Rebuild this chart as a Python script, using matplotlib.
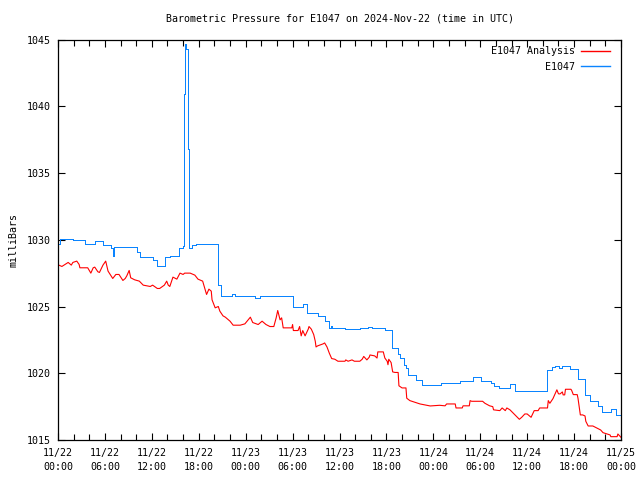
import numpy as np
import matplotlib
matplotlib.use('Agg')
import matplotlib.pyplot as plt
from matplotlib.ticker import MultipleLocator, FuncFormatter

# hours since 2024-11-22 00:00 UTC, pressure in mb
analysis_hours = [0.1, 0.5, 0.9, 1.3, 1.7, 1.9, 2.4, 2.7, 2.8, 3.8, 4.2, 4.5, 4.7, 5.1, 5.3, 5.75, 6.1, 6.4,
                  7.0, 7.4, 7.8, 8.3, 8.6, 8.8, 9.1, 9.3, 9.8, 10.4, 10.9, 11.8, 12.1, 12.7, 13.0, 13.6, 13.9,
                  14.1, 14.3, 14.7, 15.2, 15.6, 16.0, 16.2, 16.9, 17.5, 17.9, 18.5, 19.0, 19.3, 19.6, 19.7,
                  20.1, 20.5, 20.7, 21.1, 21.4, 22.0, 22.4, 23.3, 23.9, 24.6, 24.9, 25.6, 26.1, 26.6, 27.1,
                  27.6, 27.9, 28.1, 28.4, 28.6, 28.8, 29.9, 30.0, 30.1, 30.7, 30.9, 31.1, 31.3, 31.6, 32.0,
                  32.1, 32.4, 32.7, 32.9, 33.0, 33.2, 33.9, 34.1, 34.4, 34.7, 35.0, 35.4, 35.8, 36.7, 36.8,
                  37.1, 37.6, 37.9, 38.6, 38.9, 39.1, 39.5, 39.8, 39.9, 40.5, 40.8, 40.9, 41.6, 41.8, 42.1,
                  42.2, 42.3, 42.6, 42.8, 43.1, 43.5, 43.6, 44.0, 44.5, 44.6, 45.0, 46.3, 47.6, 48.8, 49.5,
                  49.7, 50.8, 50.9, 51.7, 51.8, 52.6, 52.7, 52.9, 54.3, 54.6, 55.2, 55.6, 55.7, 56.5, 56.8,
                  57.2, 57.4, 57.8, 58.4, 59.0, 59.3, 59.7, 60.0, 60.5, 60.9, 61.4, 61.6, 62.6, 62.7, 62.9,
                  63.3, 63.8, 64.0, 64.2, 64.5, 64.6, 64.8, 64.9, 65.6, 65.7, 65.9, 66.4, 66.5, 66.8, 67.1,
                  67.4, 67.5, 67.8, 68.4, 68.9, 69.4, 69.7, 70.6, 70.7, 71.5, 71.6, 72.0]
analysis_mb = [1028.1, 1028.0, 1028.15, 1028.3, 1028.1, 1028.3, 1028.4, 1028.15, 1027.9, 1027.9, 1027.5,
               1027.9, 1027.95, 1027.6, 1027.55, 1028.1, 1028.4, 1027.65, 1027.1, 1027.4, 1027.4, 1026.95,
               1027.1, 1027.3, 1027.7, 1027.15, 1027.0, 1026.9, 1026.6, 1026.5, 1026.6, 1026.35, 1026.35,
               1026.6, 1026.9, 1026.6, 1026.5, 1027.2, 1027.05, 1027.5, 1027.4, 1027.5, 1027.5, 1027.35,
               1027.05, 1026.9, 1025.9, 1026.3, 1026.15, 1025.5, 1024.9, 1025.0, 1024.65, 1024.3, 1024.2,
               1023.9, 1023.6, 1023.6, 1023.7, 1024.2, 1023.8, 1023.65, 1023.9, 1023.65, 1023.5, 1023.5,
               1024.15, 1024.7, 1024.0, 1024.15, 1023.4, 1023.4, 1023.65, 1023.2, 1023.2, 1023.5, 1022.8,
               1023.2, 1022.8, 1023.3, 1023.5, 1023.3, 1022.9, 1022.4, 1021.97, 1022.05, 1022.2, 1022.27,
               1021.97, 1021.5, 1021.1, 1021.05, 1020.9, 1020.9, 1021.0, 1020.9, 1021.0, 1020.9, 1020.9,
               1021.05, 1021.26, 1021.0, 1021.2, 1021.37, 1021.3, 1021.14, 1021.6, 1021.6, 1021.14, 1020.9,
               1020.64, 1021.05, 1020.8, 1020.1, 1020.06, 1020.06, 1019.06, 1018.9, 1018.9, 1018.13,
               1017.95, 1017.7, 1017.55, 1017.6, 1017.56, 1017.7, 1017.7, 1017.4, 1017.4, 1017.56, 1017.56,
               1017.95, 1017.9, 1017.9, 1017.75, 1017.56, 1017.5, 1017.26, 1017.2, 1017.4, 1017.2, 1017.4,
               1017.26, 1016.9, 1016.55, 1016.7, 1016.95, 1016.95, 1016.7, 1017.2, 1017.2, 1017.4, 1017.4,
               1017.95, 1017.75, 1018.1, 1018.76, 1018.46, 1018.45, 1018.6, 1018.38, 1018.38, 1018.8,
               1018.8, 1018.7, 1018.4, 1018.4, 1018.13, 1016.88, 1016.88, 1016.8, 1016.4, 1016.05, 1016.05,
               1015.9, 1015.75, 1015.55, 1015.38, 1015.25, 1015.25, 1015.45, 1015.2]

# observed station pressure, step changes (hour the level starts, value)
obs_hours = [0.13, 0.3, 1.9, 3.45, 4.7, 5.8, 6.8, 7.0, 7.2, 10.1, 10.5, 12.1, 12.6, 13.7, 14.3, 15.5, 16.0,
             16.1, 16.15, 16.2, 16.4, 16.6, 16.75, 17.2, 17.6, 20.4, 20.9, 22.3, 22.6, 25.2, 25.8, 30.1,
             31.3, 31.9, 33.2, 34.1, 34.6, 34.9, 35.1, 36.7, 38.6, 39.6, 40.2, 41.8, 42.7, 43.5, 43.7, 44.2,
             44.5, 44.8, 45.8, 46.6, 49.0, 51.4, 53.1, 54.1, 55.4, 55.8, 56.4, 57.8, 58.4, 62.5, 63.2, 63.6,
             64.1, 64.4, 65.5, 66.5, 67.4, 68.0, 69.1, 69.6, 70.7, 71.3, 72.0]
obs_mb = [1029.66, 1030.08, 1030.0, 1029.7, 1029.9, 1029.6, 1029.4, 1028.8, 1029.43, 1029.1, 1028.7,
          1028.45, 1028.0, 1028.7, 1028.8, 1029.36, 1029.5, 1033.3, 1040.9, 1044.7, 1044.3, 1036.8, 1029.4,
          1029.6, 1029.66, 1026.6, 1025.8, 1025.9, 1025.77, 1025.65, 1025.75, 1024.95, 1025.15, 1024.5,
          1024.27, 1023.95, 1023.4, 1023.55, 1023.4, 1023.3, 1023.4, 1023.5, 1023.4, 1023.27, 1021.9,
          1021.47, 1021.14, 1020.6, 1020.4, 1019.9, 1019.5, 1019.1, 1019.26, 1019.4, 1019.7, 1019.45,
          1019.26, 1019.06, 1018.9, 1019.2, 1018.7, 1020.26, 1020.5, 1020.57, 1020.4, 1020.57, 1020.3,
          1019.56, 1018.4, 1017.9, 1017.56, 1017.1, 1017.33, 1016.9, 1016.9]

day_labels = ['11/22', '11/23', '11/24', '11/25']

FONT = 'DejaVu Sans Mono'
FS = 7.2

fig = plt.figure(figsize=(6.4, 4.8), dpi=100)
ax = fig.add_axes([58/640, 40/480, 563/640, 400.5/480])

ax.plot(analysis_hours, analysis_mb, color='#ff0000', linewidth=0.8,
        label='E1047 Analysis')
ax.plot(obs_hours, obs_mb, color='#0a84ff', linewidth=0.55, antialiased=False,
        drawstyle='steps-post', label='E1047')

ax.set_xlim(0, 72)
ax.set_ylim(1015, 1045)
ax.xaxis.set_major_locator(MultipleLocator(6))
ax.xaxis.set_minor_locator(MultipleLocator(2))
ax.yaxis.set_major_locator(MultipleLocator(5))

def fmt_time(h, pos):
    h = int(round(h))
    return f'{day_labels[h // 24]}\n{h % 24:02d}:00'

ax.xaxis.set_major_formatter(FuncFormatter(fmt_time))
ax.yaxis.set_major_formatter(FuncFormatter(lambda v, p: f'{v:.0f}'))

ax.tick_params(which='both', direction='in', top=True, right=True, width=0.8, colors='black')
ax.tick_params(which='major', length=5, pad=6)
ax.tick_params(which='minor', length=4)
ax.tick_params(axis='y', pad=5)
for lab in ax.get_xticklabels() + ax.get_yticklabels():
    lab.set_fontfamily(FONT)
    lab.set_fontsize(FS)
for lab in ax.get_xticklabels():
    lab.set_linespacing(1.5)
for s in ax.spines.values():
    s.set_linewidth(0.9)

ax.set_title('Barometric Pressure for E1047 on 2024-Nov-22 (time in UTC)',
             fontfamily=FONT, fontsize=FS, pad=13)
ax.set_ylabel('milliBars', fontfamily=FONT, fontsize=FS, labelpad=6)

leg = ax.legend(loc='upper right', bbox_to_anchor=(1 - 7/563, 1 - 3/400.5), borderaxespad=0,
                markerfirst=False, frameon=False, handlelength=2.9,
                handletextpad=0.6, labelspacing=0.5,
                prop={'family': FONT, 'size': FS})
for ln in leg.get_lines():
    ln.set_linewidth(1.0)

fig.savefig('out.png', dpi=100)
